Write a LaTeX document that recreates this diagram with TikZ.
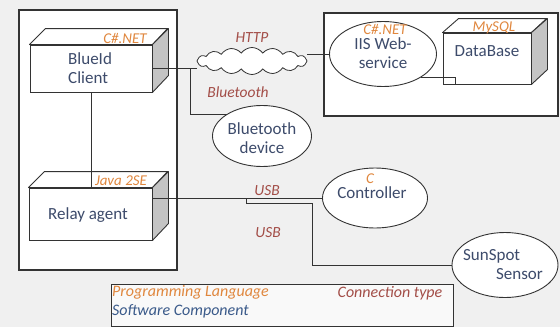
\documentclass[tikz,border=0pt]{standalone}
\usepackage{fontspec}
\setmainfont{Carlito}
\usetikzlibrary{shapes.geometric,shapes.symbols}
\definecolor{bg}{HTML}{F0F0F0}
\definecolor{lang}{HTML}{E0873E}
\definecolor{comp}{HTML}{3D4B6B}
\definecolor{conn}{HTML}{A34E48}
\definecolor{edge}{HTML}{333333}
\definecolor{sideface}{HTML}{C4C4C4}
\definecolor{legblue}{HTML}{3A5A8A}
\begin{document}
\begin{tikzpicture}[x=1pt,y=-1pt,
  every node/.style={inner sep=0pt, font=\fontsize{16}{18}\selectfont},
  container/.style={draw=edge, fill=white, line width=1.1pt},
  frontface/.style={draw=edge, fill=white, line width=0.9pt},
  topface/.style={draw=edge, fill=white, line width=0.9pt, line join=round},
  sidef/.style={draw=edge, fill=sideface, line width=0.9pt, line join=round},
  ell/.style={draw=edge, fill=white, ellipse, line width=0.9pt},
  wire/.style={draw=edge, line width=0.9pt},
  langtxt/.style={text=lang, font=\fontsize{15}{17}\selectfont\itshape},
  comptxt/.style={text=comp, align=center, font=\fontsize{17}{19}\selectfont},
  conntxt/.style={text=conn, font=\fontsize{15.5}{17}\selectfont\itshape},
]
\useasboundingbox[fill=bg] (0,0) rectangle (560,327);

% containers
\node[container, minimum width=158pt, minimum height=260pt] (leftbox) at (98,140) {};
\node[container, minimum width=234pt, minimum height=103pt] (rightbox) at (441,64.5) {};

% BlueId client cube
\node[frontface, minimum width=122pt, minimum height=47pt] (client) at (91,68.5) {};
\draw[topface] (client.north west) -- ++(16,-16) -- ++(122,0) -- (client.north east) -- cycle;
\draw[sidef] (client.north east) -- ++(16,-16) -- ++(0,47) -- (client.south east) -- cycle;
\node[langtxt] (clientlang) at (125,38) {C\#.NET};
\node[comptxt, align=left, anchor=west] (clienttxt) at (68,68) {BlueId\\Client};

% Relay agent cube
\node[frontface, minimum width=123pt, minimum height=52pt] (relay) at (90.5,214) {};
\draw[topface] (relay.north west) -- ++(16,-16) -- ++(123,0) -- (relay.north east) -- cycle;
\draw[sidef] (relay.north east) -- ++(16,-16) -- ++(0,52) -- (relay.south east) -- cycle;
\node[langtxt] (relaylang) at (121,181) {Java 2SE};
\node[comptxt] (relaytxt) at (88,215) {Relay agent};

% DataBase cube
\node[frontface, minimum width=88pt, minimum height=51pt] (db) at (487,58.5) {};
\draw[topface] (db.north west) -- ++(16,-14) -- ++(88,0) -- (db.north east) -- cycle;
\draw[sidef] (db.north east) -- ++(16,-14) -- ++(0,51) -- (db.south east) -- cycle;
\node[langtxt] (dblang) at (494,28) {MySQL};
\node[comptxt] (dbtxt) at (487,51) {DataBase};

% IIS web service
\node[ell, minimum width=107pt, minimum height=65pt] (iis) at (383,54) {};
\node[langtxt] (iislang) at (385,29) {C\#.NET};
\node[comptxt] (iistxt) at (383,53) {IIS Web-\\service};

% cloud
\node[cloud, draw=edge, fill=white, line width=0.8pt, cloud puffs=16, cloud puff arc=110, aspect=4,
      minimum width=110pt, minimum height=27pt] (cloud) at (252,61) {};
\node[conntxt] (http) at (252,38) {HTTP};
\node[conntxt] (btlab) at (238,92) {Bluetooth};

% Bluetooth device
\node[ell, minimum width=99pt, minimum height=61pt] (bt) at (262,136) {};
\node[comptxt] (bttxt) at (262,138) {Bluetooth\\device};

% Controller
\node[ell, minimum width=105pt, minimum height=60pt] (ctrl) at (375,198) {};
\node[langtxt] (ctrllang) at (370,179) {C};
\node[comptxt] (ctrltxt) at (372,193) {Controller};

% SunSpot sensor
\node[ell, minimum width=106pt, minimum height=65pt] (sun) at (505,265) {};
\node[comptxt, align=left] (suntxt) at (503,265) {SunSpot\\\hspace*{33pt}Sensor};

% USB labels
\node[conntxt] (usb1) at (267,191) {USB};
\node[conntxt] (usb2) at (268,233) {USB};

% connectors
\draw[wire] (client.south) -- (client.south |- relay.north);
\draw[wire] (client.east) -- (client.east -| cloud.west);
\coordinate (btturn) at (190,69);
\draw[wire] (btturn) |- (bt.north west);
\draw[wire] (iis.west) -- (iis.west -| cloud.east);
\coordinate (dbin) at (455,84);
\draw[wire] (iis.south east) -| (dbin);
\draw[wire] (ctrl.west -| relay.east) -- (ctrl.west);
\coordinate (usbsplit) at (246,198);
\draw[wire] (usbsplit) -- ++(0,5) -- (312,203) |- (sun.west);

% legend
\node[draw=edge, fill=white!60!bg, line width=1pt, minimum width=342pt, minimum height=42pt] (legend) at (282,305) {};
\node[langtxt, font=\fontsize{16}{18}\selectfont\itshape, anchor=west] (leglang) at (112,292) {Programming Language};
\node[text=legblue, font=\fontsize{16}{18}\selectfont\itshape, anchor=west] (legcomp) at (112,311) {Software Component};
\node[conntxt, font=\fontsize{16}{18}\selectfont\itshape] (legconn) at (390,293) {Connection type};
\end{tikzpicture}
\end{document}
